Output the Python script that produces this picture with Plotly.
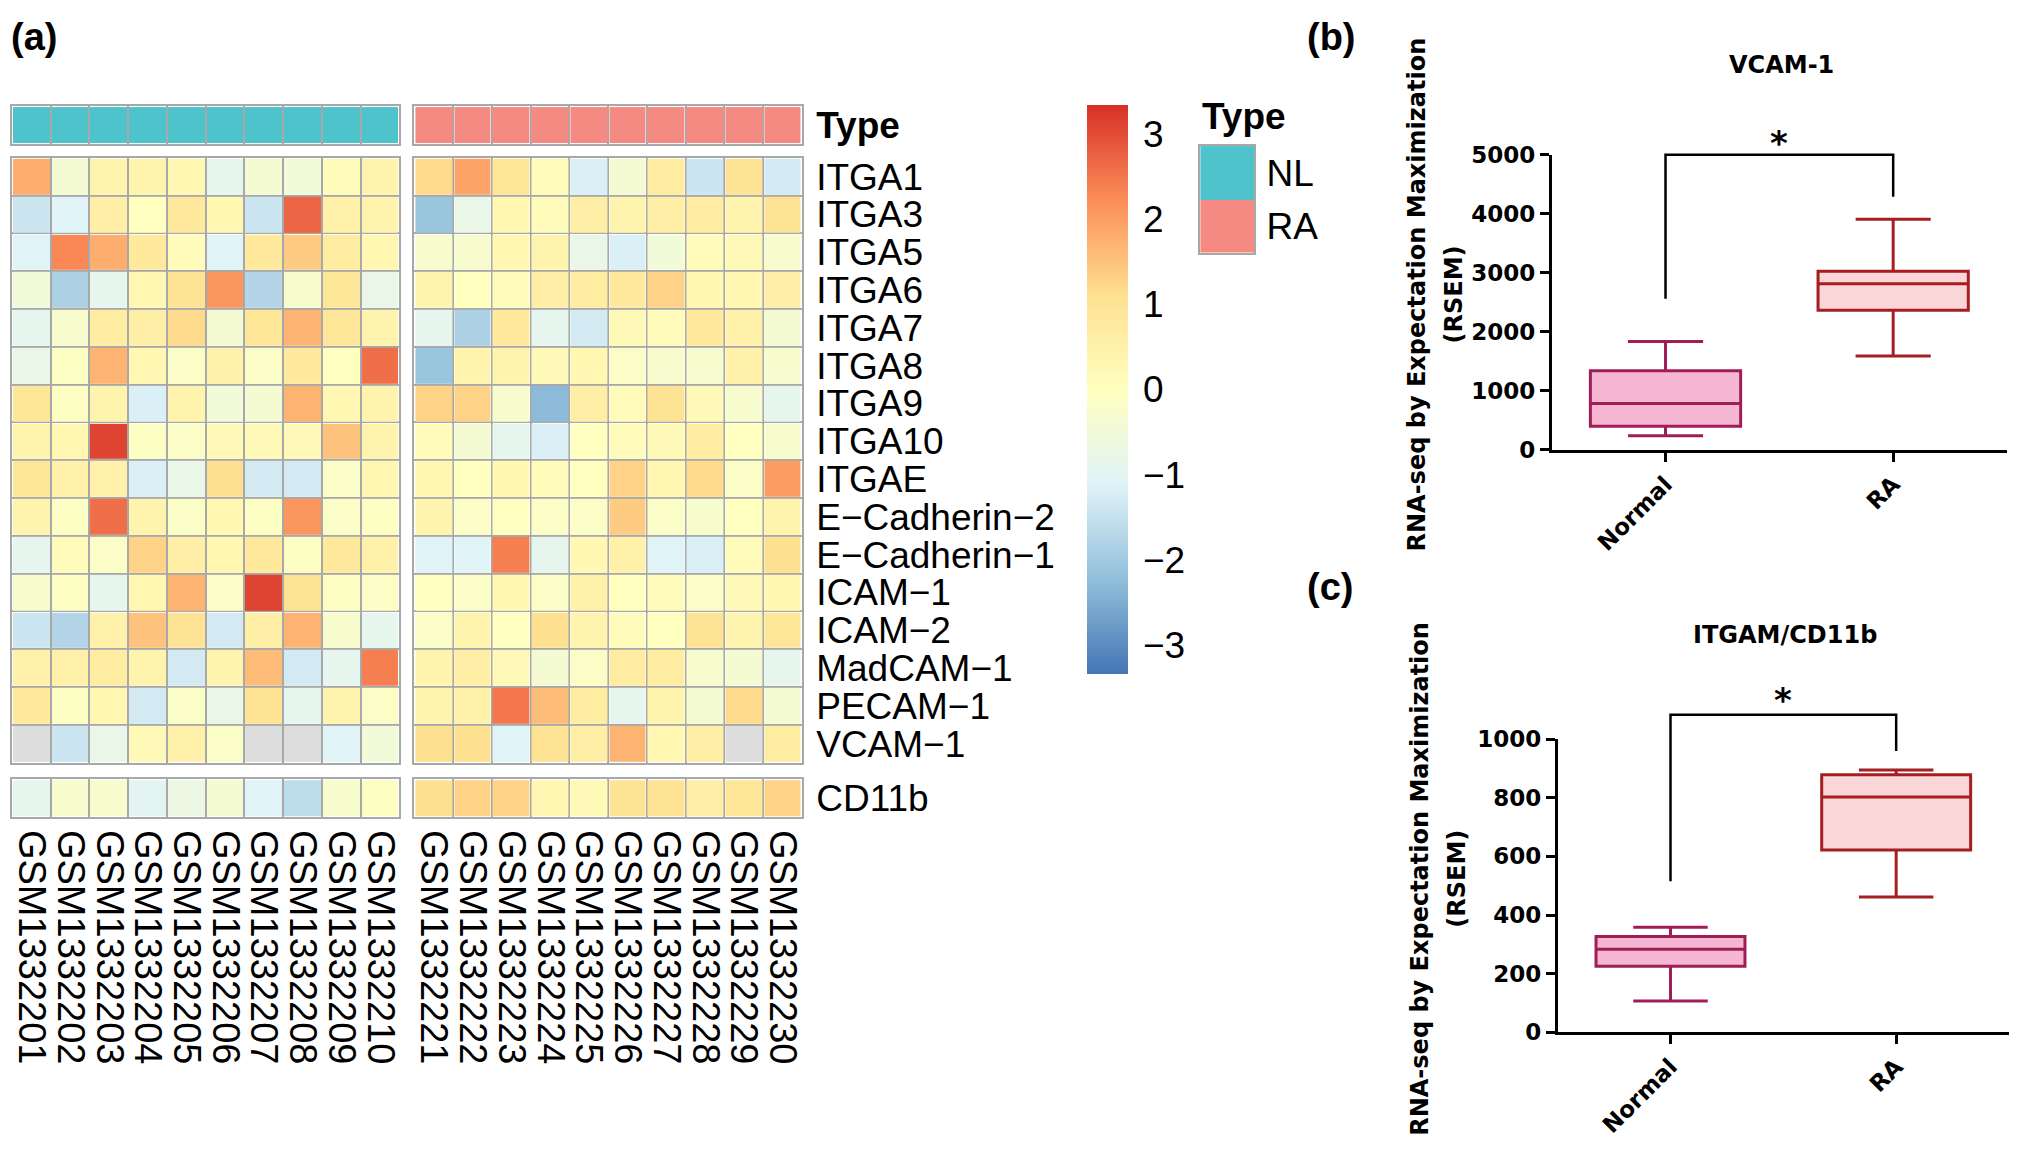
import plotly.graph_objects as go

# page size; the browser adds an 8px body margin around the figure
W, H = 2019, 1152
OFF = 8
WF, HF = W - 2 * OFF, H - 2 * OFF

# ---------------- data ----------------
genes = ["ITGA1", "ITGA3", "ITGA5", "ITGA6", "ITGA7", "ITGA8", "ITGA9", "ITGA10", "ITGAE",
         "E−Cadherin−2", "E−Cadherin−1", "ICAM−1", "ICAM−2", "MadCAM−1", "PECAM−1", "VCAM−1"]
samples_nl = ["GSM1332201", "GSM1332202", "GSM1332203", "GSM1332204", "GSM1332205",
              "GSM1332206", "GSM1332207", "GSM1332208", "GSM1332209", "GSM1332210"]
samples_ra = ["GSM1332221", "GSM1332222", "GSM1332223", "GSM1332224", "GSM1332225",
              "GSM1332226", "GSM1332227", "GSM1332228", "GSM1332229", "GSM1332230"]
type_nl = ["NL", "NL", "NL", "NL", "NL", "NL", "NL", "NL", "NL", "NL"]
type_ra = ["RA", "RA", "RA", "RA", "RA", "RA", "RA", "RA", "RA", "RA"]
type_levels = ["NL", "RA"]

expr_nl = [
    [1.8, -0.4, 0.4, 0.4, 0.3, -0.9, -0.4, -0.5, 0.1, 0.4],
    [-1.4, -1.1, 0.6, 0.0, 0.8, 0.3, -1.4, 2.7, 0.5, 0.4],
    [-1.1, 2.3, 1.8, 0.8, 0.1, -1.1, 0.8, 1.4, 0.7, 0.3],
    [-0.5, -1.85, -0.9, 0.3, 1.0, 2.1, -1.75, -0.3, 0.9, -0.8],
    [-0.9, -0.3, 0.7, 0.6, 1.2, -0.4, 0.9, 1.7, 0.9, 0.4],
    [-0.8, -0.1, 1.7, 0.3, -0.15, 0.5, -0.15, 0.8, 0.0, 2.6],
    [0.9, -0.1, 0.4, -1.2, 0.4, -0.5, -0.4, 1.7, 0.3, 0.4],
    [0.4, 0.3, 3.1, -0.1, -0.15, 0.2, 0.2, 0.2, 1.5, 0.4],
    [0.9, 0.5, 0.5, -1.2, -0.8, 1.1, -1.3, -1.3, -0.15, 0.3],
    [0.4, -0.1, 2.6, 0.4, -0.15, 0.3, -0.1, 2.1, -0.15, -0.1],
    [-0.9, 0.1, -0.15, 1.3, 0.6, 0.3, 0.8, -0.1, 0.8, 0.5],
    [-0.3, -0.1, -0.9, 0.3, 1.7, -0.15, 3.1, 1.0, -0.1, -0.15],
    [-1.4, -1.75, 0.5, 1.5, 1.0, -1.3, 0.6, 1.7, -0.3, -0.9],
    [0.5, 0.5, 0.7, 0.4, -1.3, 0.4, 1.6, -1.3, -0.9, 2.4],
    [0.8, -0.1, 0.3, -1.3, -0.15, -0.8, 1.0, -0.9, 0.4, -0.15],
    [None, -1.4, -0.8, 0.2, 0.5, -0.15, None, None, -1.1, -0.5],
]
expr_ra = [
    [1.2, 1.9, 0.9, 0.1, -1.2, -0.4, 0.7, -1.4, 1.0, -1.3],
    [-2.1, -0.8, 0.3, 0.1, 0.6, 0.4, 0.6, 0.7, 0.4, 1.0],
    [-0.3, -0.3, 0.3, 0.4, -0.8, -1.2, -0.5, 0.1, 0.2, -0.3],
    [0.4, 0.0, 0.1, 0.6, 0.7, 0.8, 1.3, 0.3, 0.3, 0.6],
    [-0.9, -1.85, 0.8, -0.9, -1.3, 0.2, 0.1, 0.8, 0.5, -0.4],
    [-2.1, 0.4, 0.4, 0.2, 0.3, -0.15, -0.3, -0.3, 0.5, -0.3],
    [1.3, 1.3, -0.3, -2.3, 0.6, 0.1, 1.0, 0.2, -0.3, -0.9],
    [0.1, -0.4, -0.9, -1.2, 0.0, 0.1, 0.2, 0.7, 0.0, -0.3],
    [0.3, 0.0, 0.3, 0.1, 0.0, 1.3, 0.3, 1.2, -0.15, 2.0],
    [0.4, -0.15, 0.0, -0.15, -0.15, 1.4, -0.15, -0.3, 0.0, 0.4],
    [-1.1, -1.1, 2.4, -0.9, 0.3, 0.5, -1.1, -1.2, 0.1, 1.1],
    [0.0, -0.15, 0.3, -0.15, 0.5, 0.0, 0.1, -0.15, 0.2, 0.3],
    [-0.15, 0.4, 0.0, 1.1, 0.4, 0.1, 0.0, 1.0, 0.4, 0.9],
    [0.4, 0.6, 0.2, -0.4, -0.15, 0.7, 0.7, -0.3, -0.4, -0.9],
    [0.4, 0.5, 2.5, 1.6, 0.7, -0.9, 0.4, -0.4, 1.2, -0.4],
    [1.1, 1.1, -1.1, 1.0, 0.6, 1.7, 0.3, 0.6, None, 0.7],
]
cd11b_label = ["CD11b"]
cd11b_nl = [-0.9, -0.3, -0.3, -1.0, -0.7, -0.4, -1.1, -1.6, -0.3, -0.1]
cd11b_ra = [1.1, 1.3, 1.3, 0.3, 0.2, 1.0, 1.0, 0.6, 0.9, 1.3]
cbar_ticks = [-3, -2, -1, 0, 1, 2, 3]

groups = ["Normal", "RA"]
vcam_min = [240, 1591]
vcam_q1 = [400, 2368]
vcam_med = [785, 2815]
vcam_q3 = [1340, 3029]
vcam_max = [1836, 3911]
vcam_bracket = [2560, 5000, 5000, 4290]
vcam_star = 5200

cd_min = [107, 462]
cd_q1 = [225, 622]
cd_med = [283, 803]
cd_q3 = [327, 879]
cd_max = [358, 895]
cd_bracket = [515, 1083, 1083, 960]
cd_star = 1135

# ---------------- style ----------------
RAMP = ["#4575B4", "#91BFDB", "#E0F3F8", "#FFFFBF", "#FEE090", "#FC8D59", "#D73027"]
CSCALE = [[i / 6, c] for i, c in enumerate(RAMP)]
ZLIM = 3.34
GRID = "#A8A8A8"
NA_COLOR = "#DDDDDD"
TYPE_COLORS = ["#4EC3CB", "#F48A82"]
TYPE_SCALE = [[0, TYPE_COLORS[0]], [0.5, TYPE_COLORS[0]], [0.5, TYPE_COLORS[1]], [1, TYPE_COLORS[1]]]
BOX_LINE = ["#A01E57", "#A41E22"]
BOX_FILL = ["#F5B7D2", "#FBD6D8"]
HM_FONT = "Liberation Sans"
BX_FONT = "DejaVu Sans"


def clamp(v):
    return min(1.0, max(0.0, v))


def px_x(p):
    return (p - OFF) / WF


def px_y(p):
    return 1 - (p - OFF) / HF


def xd(a, b):
    return [clamp(px_x(a)), clamp(px_x(b))]


def yd(top, bottom):
    return [clamp(px_y(bottom)), clamp(px_y(top))]


def ref(prefix, k):
    return prefix if k == 1 else f"{prefix}{k}"


fig = go.Figure()
layout = {}


def grid_axis(dom, n, anchor, reverse=False):
    rng = [n - 0.5, -0.5] if reverse else [-0.5, n - 0.5]
    return dict(domain=dom, range=rng, anchor=anchor, showgrid=False, zeroline=False,
                showticklabels=False, ticks="", showline=True, mirror=True,
                linecolor=GRID, linewidth=2, fixedrange=True,
                minor=dict(tickmode="array", tickvals=[i - 0.5 for i in range(n + 1)],
                           showgrid=True, gridcolor=GRID, gridwidth=2, ticks=""))


def add_block(k, z, xdom, ydom, colorscale, zmin, zmax, showscale=False, colorbar=None):
    n_rows, n_cols = len(z), len(z[0])
    fig.add_trace(go.Heatmap(
        z=z, x=list(range(n_cols)), y=list(range(n_rows)),
        colorscale=colorscale, zmin=zmin, zmax=zmax, xgap=2, ygap=2,
        showscale=showscale, colorbar=colorbar, hoverinfo="skip",
        xaxis=ref("x", k), yaxis=ref("y", k)))
    na = [[1 if v is None else None for v in row] for row in z]
    if any(v is not None for row in na for v in row):
        fig.add_trace(go.Heatmap(
            z=na, x=list(range(n_cols)), y=list(range(n_rows)),
            colorscale=[[0, NA_COLOR], [1, NA_COLOR]], zmin=0, zmax=1,
            xgap=2, ygap=2, showscale=False, hoverinfo="skip",
            xaxis=ref("x", k), yaxis=ref("y", k)))
    layout[ref("xaxis", k)] = grid_axis(xd(*xdom), n_cols, ref("y", k))
    layout[ref("yaxis", k)] = grid_axis(yd(*ydom), n_rows, ref("x", k), reverse=True)


X_NL, X_RA = (11, 399), (414, 802)
Y_TYPE, Y_MAIN, Y_CD = (95, 134), (148, 767), (784, 823)

cbar = dict(x=px_x(1088), xanchor="left", y=px_y(94), yanchor="top", len=582 / HF,
            lenmode="fraction", thickness=41, thicknessmode="pixels", outlinewidth=0,
            tickmode="array", tickvals=cbar_ticks, ticks="outside", ticklen=8,
            tickcolor="rgba(0,0,0,0)", xpad=0, ypad=0,
            tickfont=dict(family=HM_FONT, size=37, color="black"))

add_block(1, [[type_levels.index(t) for t in type_nl]], X_NL, Y_TYPE, TYPE_SCALE, 0, 1)
add_block(2, [[type_levels.index(t) for t in type_ra]], X_RA, Y_TYPE, TYPE_SCALE, 0, 1)
add_block(3, expr_nl, X_NL, Y_MAIN, CSCALE, -ZLIM, ZLIM, showscale=True, colorbar=cbar)
add_block(4, expr_ra, X_RA, Y_MAIN, CSCALE, -ZLIM, ZLIM)
add_block(5, [cd11b_nl], X_NL, Y_CD, CSCALE, -ZLIM, ZLIM)
add_block(6, [cd11b_ra], X_RA, Y_CD, CSCALE, -ZLIM, ZLIM)

lab_font = dict(family=HM_FONT, size=37, color="black")
for k, vals, txt in [(2, [0], ["<b>Type</b>"]), (4, list(range(len(genes))), genes), (6, [0], cd11b_label)]:
    layout[ref("yaxis", k)].update(side="right", showticklabels=True, tickmode="array",
                                   tickvals=vals, ticktext=txt, tickfont=lab_font,
                                   ticklabelstandoff=5)
for k, names in [(5, samples_nl), (6, samples_ra)]:
    layout[ref("xaxis", k)].update(showticklabels=True, tickmode="array",
                                   tickvals=list(range(len(names))), ticktext=names,
                                   tickangle=90, tickfont=dict(family=HM_FONT, size=38, color="black"),
                                   ticklabelstandoff=3)

# Type legend as a small 2-cell heatmap
fig.add_trace(go.Heatmap(z=[[0], [1]], x=[0], y=[0, 1], colorscale=TYPE_SCALE, zmin=0, zmax=1,
                         showscale=False, hoverinfo="skip", xaxis="x7", yaxis="y7"))
layout["xaxis7"] = dict(domain=xd(1201, 1255), range=[-0.5, 0.5], anchor="y7", showgrid=False,
                        zeroline=False, showticklabels=False, showline=True, mirror=True,
                        linecolor=GRID, linewidth=2, fixedrange=True)
layout["yaxis7"] = dict(domain=yd(136, 245), range=[1.5, -0.5], anchor="x7", showgrid=False,
                        zeroline=False, side="right", tickmode="array", tickvals=[0, 1],
                        ticktext=type_levels, tickfont=dict(family=HM_FONT, size=37, color="black"),
                        ticklabelstandoff=3, showline=True, mirror=True, linecolor=GRID,
                        linewidth=2, fixedrange=True)

# ---------------- box plots ----------------
bx_tick = dict(family=BX_FONT, size=23, color="black", weight="bold")
XRANGE = [-0.5, 1.5]


def add_box_panel(k, k_ext, mins, q1s, meds, q3s, maxs, bracket, star, xdom, ytop_px, y0_px, ymax, dtick):
    for i, g in enumerate(groups):
        fig.add_trace(go.Box(x=[i], q1=[q1s[i]], median=[meds[i]], q3=[q3s[i]],
                             lowerfence=[mins[i]], upperfence=[maxs[i]], width=0.66,
                             whiskerwidth=0.5, fillcolor=BOX_FILL[i],
                             line=dict(color=BOX_LINE[i], width=3), boxpoints=False,
                             hoverinfo="skip", xaxis=ref("x", k), yaxis=ref("y", k)))
    common = dict(showline=True, linecolor="black", linewidth=2.5, ticks="outside", ticklen=9,
                  tickwidth=2.5, tickcolor="black", showgrid=False, zeroline=False,
                  tickfont=bx_tick, fixedrange=True)
    layout[ref("xaxis", k)] = dict(domain=xd(*xdom), range=XRANGE, anchor=ref("y", k),
                                   tickmode="array", tickvals=[0, 1], ticktext=groups,
                                   tickangle=-45, **common)
    layout[ref("yaxis", k)] = dict(domain=yd(ytop_px, y0_px), range=[0, ymax], anchor=ref("x", k),
                                   tickmode="linear", tick0=0, dtick=dtick, **common)
    # hidden companion axes with the same scale but taller, so the bracket above the plot is not clipped
    ext = 1.25
    top_ext = y0_px - (y0_px - ytop_px) * ext
    fig.add_trace(go.Scatter(x=[0, 0, 1, 1], y=bracket, mode="lines",
                             line=dict(color="black", width=2.5), hoverinfo="skip",
                             xaxis=ref("x", k_ext), yaxis=ref("y", k_ext)))
    fig.add_annotation(x=0.5, y=star, xref=ref("x", k_ext), yref=ref("y", k_ext), text="*",
                       showarrow=False, font=dict(family=BX_FONT, size=34, color="black", weight="bold"),
                       xanchor="center", yanchor="middle")
    hidden = dict(visible=False, showgrid=False, zeroline=False, fixedrange=True)
    layout[ref("xaxis", k_ext)] = dict(domain=xd(*xdom), range=XRANGE, anchor=ref("y", k_ext), **hidden)
    layout[ref("yaxis", k_ext)] = dict(domain=yd(top_ext, y0_px), range=[0, ymax * ext],
                                       anchor=ref("x", k_ext), **hidden)


add_box_panel(8, 10, vcam_min, vcam_q1, vcam_med, vcam_q3, vcam_max, vcam_bracket, vcam_star,
              (1553, 2009), 145, 447, 5000, 1000)
add_box_panel(9, 11, cd_min, cd_q1, cd_med, cd_q3, cd_max, cd_bracket, cd_star,
              (1559, 2011), 743, 1043, 1000, 200)

# ---------------- annotations ----------------
def note(text, x, y, size, family, xanchor="center", yanchor="middle", angle=0, bold=True):
    fig.add_annotation(text=text, x=px_x(x), y=px_y(y), xref="paper", yref="paper",
                       showarrow=False, xanchor=xanchor, yanchor=yanchor, textangle=angle,
                       font=dict(family=family, size=size, color="black",
                                 weight="bold" if bold else "normal"))


note("(a)", 8, 1, 38, HM_FONT, xanchor="left", yanchor="top")
note("(b)", 1306, 1, 38, HM_FONT, xanchor="left", yanchor="top")
note("(c)", 1306, 564, 38, HM_FONT, xanchor="left", yanchor="top")
note("Type", 1201, 106, 37, HM_FONT, xanchor="left")
note("VCAM-1", 1783, 53, 24, BX_FONT)
note("ITGAM/CD11b", 1787, 636, 24, BX_FONT)
note("RNA-seq by Expectation Maximization", 1418, 288, 24, BX_FONT, angle=-90)
note("(RSEM)", 1455, 288, 24, BX_FONT, angle=-90)
note("RNA-seq by Expectation Maximization", 1421, 886, 24, BX_FONT, angle=-90)
note("(RSEM)", 1458, 886, 24, BX_FONT, angle=-90)

fig.update_layout(width=WF, height=HF, margin=dict(l=0, r=0, t=0, b=0),
                  paper_bgcolor="white", plot_bgcolor="rgba(0,0,0,0)", showlegend=False, **layout)

fig.write_html("out.html")
